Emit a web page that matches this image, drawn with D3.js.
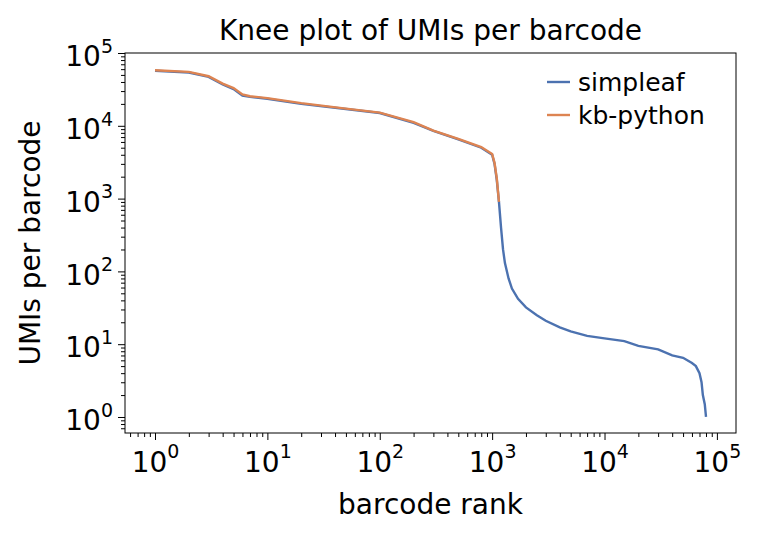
<!DOCTYPE html>
<html><head><meta charset="utf-8">
<script src="https://cdn.jsdelivr.net/npm/d3@7"></script>
<style>body{margin:0;background:#fff;font-family:"DejaVu Sans",sans-serif;}</style>
</head><body><svg id="vis" width="763" height="537"></svg>
<script>
const simpleafRank = [1,2,3,4,5,6,7,10,20,50,100,200,300,500,800,1000,1050,1100,1150,1200,1250,1300,1400,1500,1700,2000,2500,3000,4000,5000,7000,10000,15000,20000,30000,40000,50000,60000,65000,70000,73000,75000,78000,80000];
const simpleafUmi = [57000,54000,47000,37000,32000,26000,25000,23500,20000,17000,15000,11000,8500,6500,5000,4000,3000,1800,900,400,200,130,80,58,42,32,25,21,17,15,13,12,11,9.5,8.5,7,6.5,5.5,5,4,3,2,1.5,1];
const kbRank = [1,2,3,4,5,6,7,10,20,50,100,200,300,500,800,1000,1050,1100,1150];
const kbUmi = [58000,55000,48000,38000,33000,27000,25500,24000,20500,17200,15200,11200,8600,6600,5100,4100,3100,1900,900];
const series = [
  {name:'simpleaf', color:'#4c72b0', x:simpleafRank, y:simpleafUmi},
  {name:'kb-python', color:'#dd8452', x:kbRank, y:kbUmi}
];
const xTicks = [1,10,100,1000,10000,100000];
const yTicks = [1,10,100,1000,10000,100000];

const svg = d3.select('#vis');
const L = 125, R = 736, T = 53, B = 433;
const FS = '28px';
const x = d3.scaleLog().domain([Math.pow(10,-0.267), Math.pow(10,5.17)]).range([L,R]);
const y = d3.scaleLog().domain([Math.pow(10,-0.22), 1e5]).range([B,T]);
const sup = g => g.each(function(d){
  const t = d3.select(this); t.text('');
  t.append('tspan').text('10');
  t.append('tspan').attr('dy','-0.7em').attr('font-size','19px').text(Math.round(Math.log10(d)));
});
const minor = [];
for (let e=-1;e<6;e++) for (let k=2;k<10;k++) minor.push(k*Math.pow(10,e));

const gx = svg.append('g').attr('transform',`translate(0,${B})`)
  .call(d3.axisBottom(x).tickValues(xTicks).tickSize(7).tickPadding(5));
gx.selectAll('text').attr('font-size',FS).attr('font-family','DejaVu Sans').attr('fill','#000').attr('dy','0.95em').call(sup);
svg.append('g').attr('transform',`translate(0,${B})`)
  .call(d3.axisBottom(x).tickValues(minor.filter(v=>v>=x.domain()[0]&&v<=x.domain()[1])).tickSize(4).tickFormat(''))
  .select('.domain').remove();
const gy = svg.append('g').attr('transform',`translate(${L},0)`)
  .call(d3.axisLeft(y).tickValues(yTicks).tickSize(7).tickPadding(5));
gy.selectAll('text').attr('font-size',FS).attr('font-family','DejaVu Sans').attr('fill','#000').attr('dy','0.45em').call(sup);
svg.append('g').attr('transform',`translate(${L},0)`)
  .call(d3.axisLeft(y).tickValues(minor.filter(v=>v>=y.domain()[0]&&v<=y.domain()[1])).tickSize(4).tickFormat(''))
  .select('.domain').remove();
svg.selectAll('.domain').remove();
svg.append('rect').attr('x',L).attr('y',T).attr('width',R-L).attr('height',B-T)
  .attr('fill','none').attr('stroke','#000').attr('stroke-width',1);

series.forEach(s=>{
  svg.append('path').datum(s.x.map((v,i)=>[v,s.y[i]]))
    .attr('d', d3.line().x(d=>x(d[0])).y(d=>y(d[1])))
    .attr('fill','none').attr('stroke',s.color).attr('stroke-width',2.4);
});

svg.append('text').attr('x',(L+R)/2).attr('y',40).attr('text-anchor','middle')
  .attr('font-size',FS).text('Knee plot of UMIs per barcode');
svg.append('text').attr('x',(L+R)/2).attr('y',514).attr('text-anchor','middle')
  .attr('font-size',FS).text('barcode rank');
svg.append('text').attr('transform',`translate(40,${(T+B)/2}) rotate(-90)`).attr('text-anchor','middle')
  .attr('font-size',FS).text('UMIs per barcode');

series.forEach((s,i)=>{
  const yy = 91 + i*33;
  svg.append('line').attr('x1',547).attr('x2',570).attr('y1',yy-9).attr('y2',yy-9)
    .attr('stroke',s.color).attr('stroke-width',2.4);
  svg.append('text').attr('x',578).attr('y',yy).attr('font-size','25px').text(s.name);
});
</script></body></html>
